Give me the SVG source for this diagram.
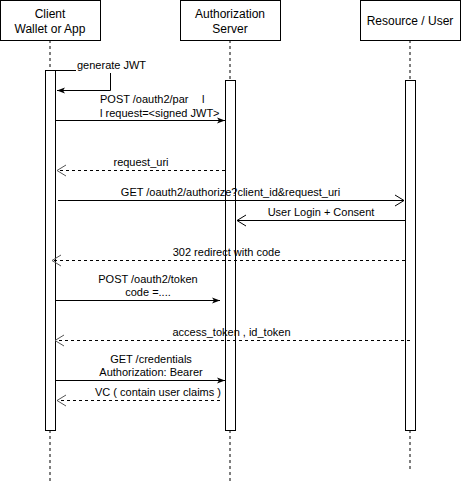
<svg xmlns="http://www.w3.org/2000/svg" width="461" height="481" viewBox="0 0 461 481">
<style>
text{font-family:"Liberation Sans",Arial,sans-serif;fill:#000}
.h{font-size:12px;text-anchor:middle}
.l{font-size:11px}
.c{text-anchor:middle}
.box{fill:#fff;stroke:#000;stroke-width:1}
.life{stroke:#000;stroke-dasharray:3 3;fill:none}
.msg{stroke:#000;fill:none}
.ret{stroke:#000;stroke-dasharray:3 3;fill:none}
</style>
<defs>
<marker id="block" markerWidth="10" markerHeight="8" refX="8" refY="4" orient="auto" markerUnits="userSpaceOnUse">
<path d="M0,1 L8,4 L0,7 L2,4 Z" fill="#000"/>
</marker>
<marker id="open" markerWidth="12" markerHeight="14" refX="10" refY="7" orient="auto" markerUnits="userSpaceOnUse">
<path d="M1,1.5 L10,7 L1,12.5" fill="none" stroke="#000" stroke-width="1"/>
</marker>
<marker id="openg" markerWidth="12" markerHeight="14" refX="10" refY="7" orient="auto" markerUnits="userSpaceOnUse">
<path d="M1,1.5 L10,7 L1,12.5" fill="none" stroke="#555" stroke-width="1"/>
</marker>
</defs>
<rect width="461" height="481" fill="#fff"/>
<g id="client">
<line class="life" x1="50" y1="40" x2="50" y2="481"/>
<rect class="box" x="0.5" y="0.5" width="100" height="40"/>
<text class="h" x="50" y="18">Client</text>
<text class="h" x="50" y="33">Wallet or App</text>
<rect class="box" x="45.5" y="70.5" width="10" height="360"/>
</g>
<g id="auth">
<line class="life" x1="230" y1="40" x2="230" y2="481"/>
<rect class="box" x="180.5" y="0.5" width="100" height="40"/>
<text class="h" x="230" y="18">Authorization</text>
<text class="h" x="230" y="33">Server</text>
<rect class="box" x="225.5" y="80.5" width="10" height="350"/>
</g>
<g id="resource">
<line class="life" x1="410" y1="40" x2="410" y2="470"/>
<rect class="box" x="360.5" y="0.5" width="100" height="40"/>
<text class="h" x="410" y="25">Resource / User</text>
<rect class="box" x="405.5" y="80.5" width="10" height="350"/>
</g>
<g id="connectors">
<path class="msg" d="M55.5,70.5 H110.5 V90.5 H57" marker-end="url(#block)"/>
<rect x="76" y="59" width="70" height="14" fill="#fff"/>
<text class="l" x="77" y="69">generate JWT</text>
<line class="msg" x1="55.5" y1="120.5" x2="225" y2="120.5" marker-end="url(#block)"/>
<text class="l" x="100" y="103">POST /oauth2/par</text>
<text class="l" x="202" y="103">l</text>
<text class="l" x="100" y="117">l request=&lt;signed JWT&gt;</text>
<line class="ret" x1="225" y1="170.5" x2="57" y2="170.5" stroke="#555" marker-end="url(#openg)"/>
<text class="l c" x="141" y="166">request_uri</text>
<line class="msg" x1="58" y1="200.5" x2="404" y2="200.5" marker-end="url(#open)"/>
<text class="l c" x="230.5" y="196">GET /oauth2/authorize?client_id&amp;request_uri</text>
<line class="msg" x1="405" y1="220.5" x2="237" y2="220.5" marker-end="url(#open)"/>
<text class="l c" x="321" y="216">User Login + Consent</text>
<line class="ret" x1="405" y1="260.5" x2="52" y2="260.5" marker-end="url(#openg)"/>
<text class="l c" x="226.5" y="256">302 redirect with code</text>
<line class="msg" x1="55.5" y1="300.5" x2="220" y2="300.5" marker-end="url(#block)"/>
<text class="l c" x="148" y="283">POST /oauth2/token</text>
<text class="l c" x="148" y="296">code =....</text>
<line class="ret" x1="410" y1="340.5" x2="55" y2="340.5" marker-end="url(#openg)"/>
<text class="l c" x="231.5" y="336">access_token , id_token</text>
<line class="msg" x1="55.5" y1="380.5" x2="225" y2="380.5" marker-end="url(#block)"/>
<text class="l c" x="151" y="363">GET /credentials</text>
<text class="l c" x="151" y="376">Authorization: Bearer</text>
<line class="ret" x1="220" y1="400.5" x2="57" y2="400.5" marker-end="url(#openg)"/>
<text class="l c" x="158" y="396">VC ( contain user claims )</text>
</g>
</svg>
